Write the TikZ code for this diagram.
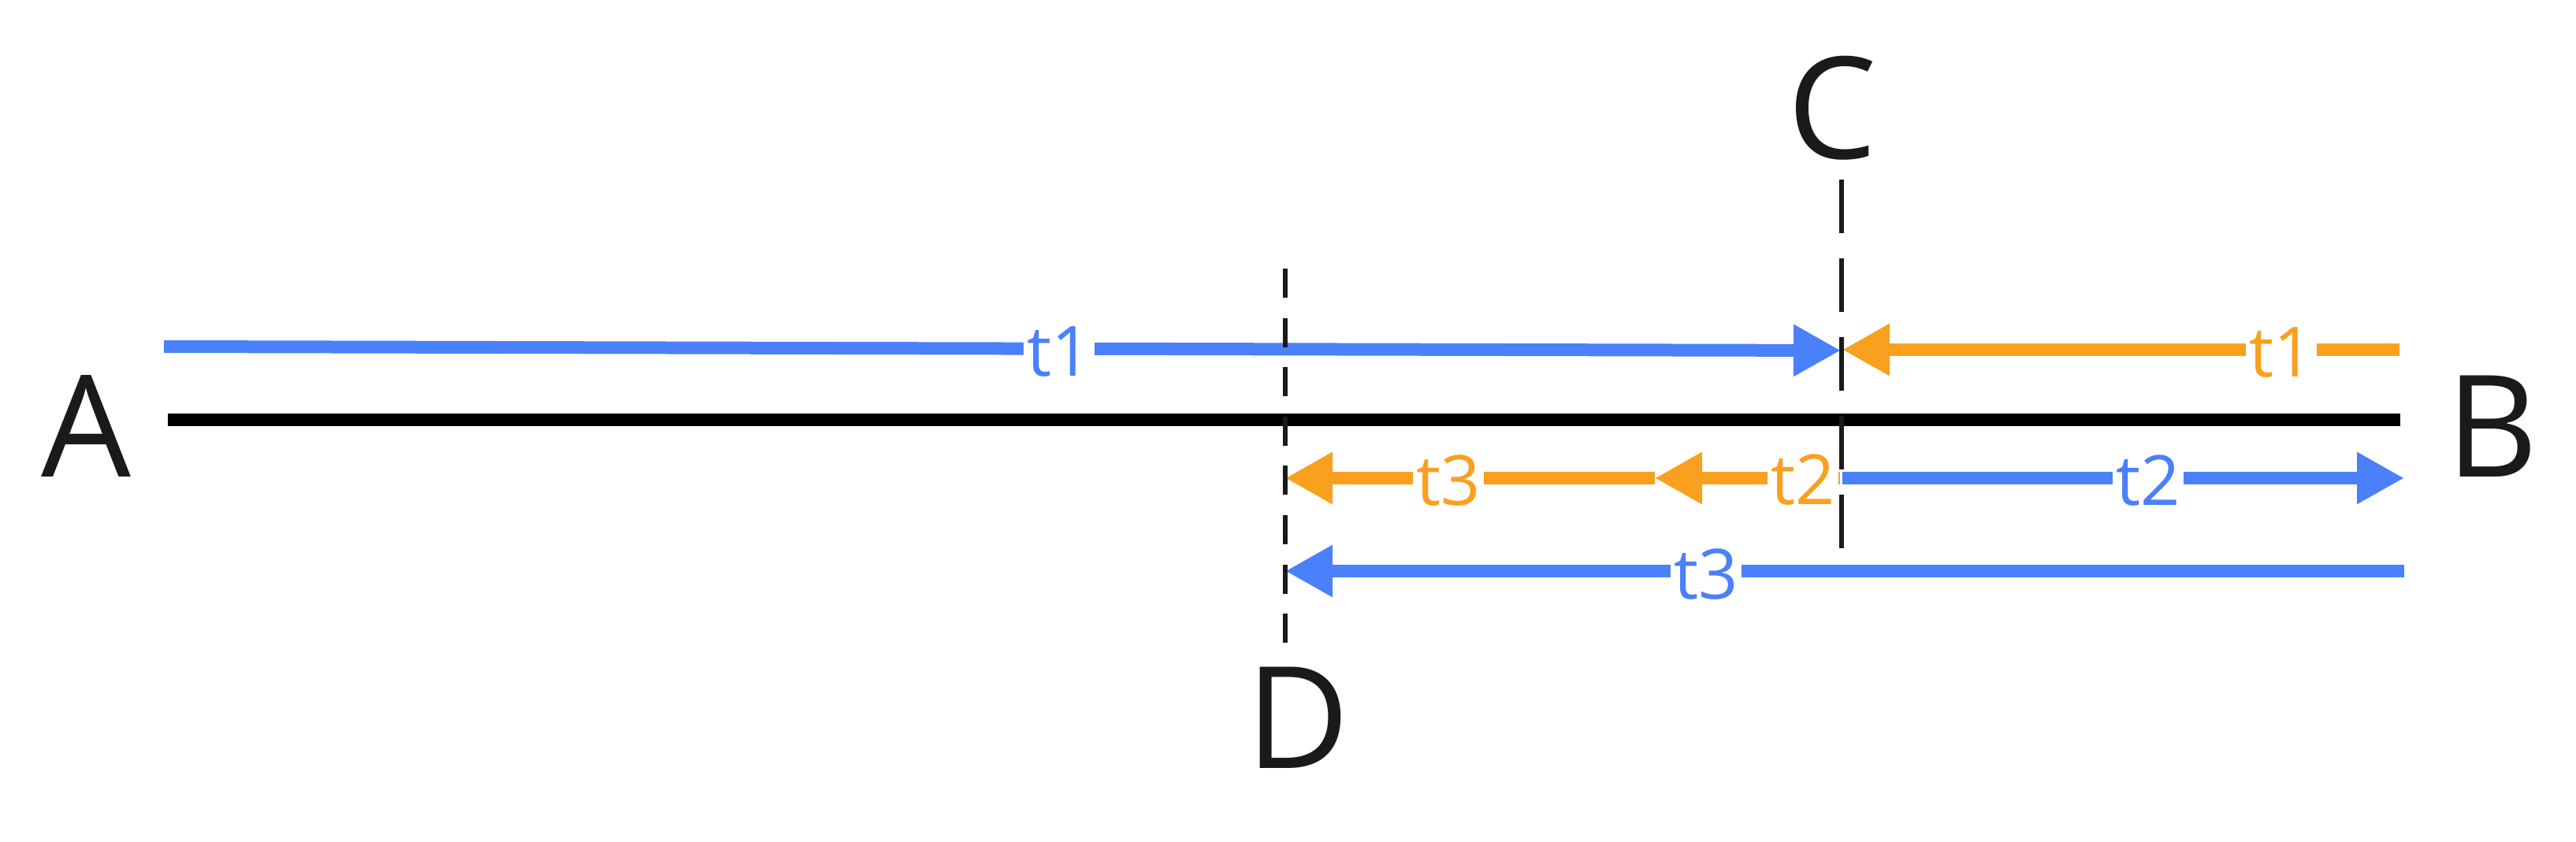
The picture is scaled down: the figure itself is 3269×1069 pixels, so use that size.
\documentclass[tikz,border=0pt]{standalone}
\usepackage{fontspec}
\setmainfont{Open Sans}
\usetikzlibrary{arrows.meta}
\definecolor{myblue}{HTML}{4A80FA}
\definecolor{myorange}{HTML}{F9A01E}
\definecolor{mydark}{HTML}{1A1A1A}
\tikzset{
  bigletter/.style={anchor=base, inner sep=0pt, text=mydark, font=\fontsize{90}{100}\selectfont},
  lbl/.style={anchor=base, inner xsep=2pt, inner ysep=0pt, fill=white, font=\fontsize{44}{50}\selectfont},
  mainline/.style={line width=8pt, black},
  arr/.style={line width=8pt, -{Triangle[length=30pt,width=31pt]}},
  cdash/.style={line width=3pt, mydark, dash pattern=on 34pt off 16pt},
  ddash/.style={line width=3pt, mydark, dash pattern=on 18.5pt off 12.8pt},
}
\begin{document}
\begin{tikzpicture}[x=0.5pt,y=-0.5pt]
\useasboundingbox (0,0) rectangle (3269,1069);
% letters
\node[bigletter] (A) at (109,605) {A};
\node[bigletter] (B) at (3163,605) {B};
\node[bigletter] (C) at (2325,202) {C};
\node[bigletter] (D) at (1647,975) {D};
% coordinates
\coordinate (mL) at (213,533);
\coordinate (mR) at (3046,533);
\coordinate (b1s) at (208,440);
\coordinate (b1e) at (2336,445);
\coordinate (o1s) at (3045,444);
\coordinate (o1e) at (2338,444);
\coordinate (o2s) at (2335,607);
\coordinate (o2m) at (2100,607);
\coordinate (o2e) at (1631,607);
\coordinate (b2s) at (2338,607);
\coordinate (b2e) at (3051,607);
\coordinate (b3s) at (3051,725);
\coordinate (b3e) at (1631,725);
\coordinate (cT) at (2337,228);
\coordinate (cB) at (2337,696);
\coordinate (dT) at (1631,341);
\coordinate (dB) at (1631,817);
% main line
\draw[mainline] (mL) -- (mR);
% arrows
\draw[arr, myblue] (b1s) -- (b1e);
\draw[arr, myorange] (o1s) -- (o1e);
\draw[arr, myorange] (o2s) -- (o2m);
\draw[arr, myorange] (o2m) -- (o2e);
\draw[arr, myblue] (b2s) -- (b2e);
\draw[arr, myblue] (b3s) -- (b3e);
% labels
\node[lbl, text=myblue] (lb1) at (1344,477) {t1};
\node[lbl, text=myorange] (lo1) at (2895,478) {t1};
\node[lbl, text=myorange] (lo2) at (2288,640) {t2};
\node[lbl, text=myblue] (lb2) at (2726,641) {t2};
\node[lbl, text=myorange] (lo3) at (1838,641) {t3};
\node[lbl, text=myblue] (lb3) at (2165,760) {t3};
% dashed verticals
\draw[cdash] (cT) -- (cB);
\draw[ddash] (dT) -- (dB);
\end{tikzpicture}
\end{document}
